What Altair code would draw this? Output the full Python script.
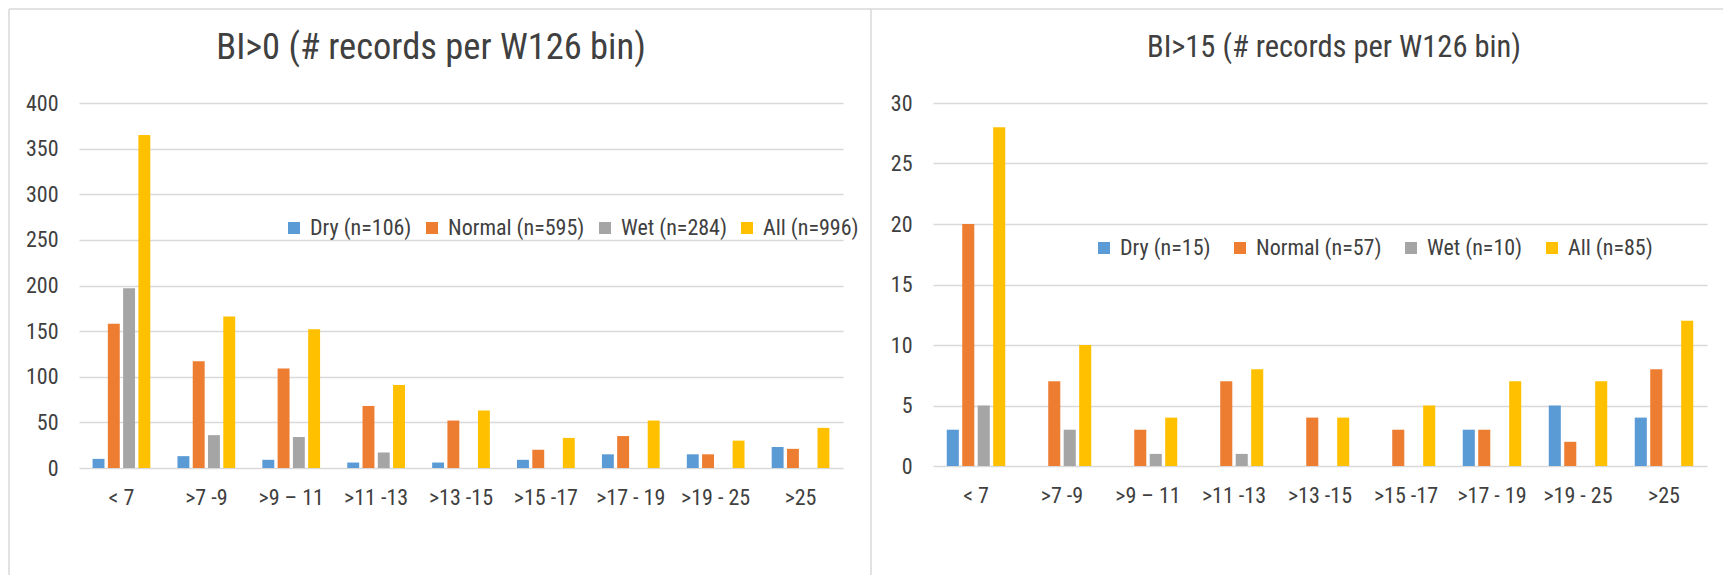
import altair as alt
import pandas as pd

bins = ["< 7", ">7 -9", ">9 – 11", ">11 -13", ">13 -15", ">15 -17", ">17 - 19", ">19 - 25", ">25"]

left_title = "BI>0 (# records per W126 bin)"
left_series = ["Dry (n=106)", "Normal (n=595)", "Wet (n=284)", "All (n=996)"]
dry0 = [10, 13, 9, 6, 6, 9, 15, 15, 23]
normal0 = [158, 117, 109, 68, 52, 20, 35, 15, 21]
wet0 = [197, 36, 34, 17, 0, 0, 0, 0, 0]
all0 = [365, 166, 152, 91, 63, 33, 52, 30, 44]

right_title = "BI>15 (# records per W126 bin)"
right_series = ["Dry (n=15)", "Normal (n=57)", "Wet (n=10)", "All (n=85)"]
dry15 = [3, 0, 0, 0, 0, 0, 3, 5, 4]
normal15 = [20, 7, 3, 7, 4, 3, 3, 2, 8]
wet15 = [5, 3, 1, 1, 0, 0, 0, 0, 0]
all15 = [28, 10, 4, 8, 4, 5, 7, 7, 12]

colors = ["#5B9BD5", "#ED7D31", "#A5A5A5", "#FFC000"]

FONT = "Liberation Sans Narrow, Arial Narrow, Roboto Condensed, sans-serif"
TEXT = "#404040"
GRID = "#D9D9D9"
BORDER = "#D9D9D9"


def long_table(series_names, arrays):
    rows = []
    for name, vals in zip(series_names, arrays):
        for b, v in zip(bins, vals):
            rows.append({"bin": b, "series": name, "value": v})
    return pd.DataFrame(rows)


def panel(df, series, title, title_size, title_x, ymax, ystep, width, height,
          legend_x, legend_y, col_pad, rules):
    bars = alt.Chart(df).mark_bar().encode(
        x=alt.X("bin:N", sort=bins,
                scale=alt.Scale(paddingInner=0.32, paddingOuter=0.16),
                axis=alt.Axis(title=None, labelAngle=0, labelFontSize=22,
                              labelColor=TEXT, labelFont=FONT, labelPadding=19,
                              ticks=False, tickSize=0, domain=False, grid=False)),
        xOffset=alt.XOffset("series:N", sort=series,
                            scale=alt.Scale(paddingInner=0.22, paddingOuter=0)),
        y=alt.Y("value:Q", scale=alt.Scale(domain=[0, ymax], nice=False),
                axis=alt.Axis(title=None, values=list(range(0, ymax + 1, ystep)),
                              labelFontSize=22, labelColor=TEXT, labelFont=FONT,
                              labelPadding=21, ticks=False, domain=False,
                              grid=True, gridColor=GRID, gridWidth=1.3,
                              minExtent=70, maxExtent=70)),
        color=alt.Color("series:N", sort=series,
                        scale=alt.Scale(domain=series, range=colors),
                        legend=alt.Legend(orient="none", legendX=legend_x, legendY=legend_y,
                                          direction="horizontal", columns=4, title=None,
                                          symbolType="square", symbolSize=144,
                                          symbolStrokeWidth=0, labelFontSize=22,
                                          labelFont=FONT, labelColor=TEXT,
                                          labelOffset=5, columnPadding=col_pad)),
    )
    layers = [bars]
    for (x1, x2, y1, y2) in rules:
        enc = {"x": alt.value(x1), "y": alt.value(y1)}
        if x2 is not None:
            enc["x2"] = alt.value(x2)
        if y2 is not None:
            enc["y2"] = alt.value(y2)
        layers.append(
            alt.Chart(alt.Data(values=[{"k": 1}])).mark_rule(color=BORDER, strokeWidth=1.5).encode(**enc)
        )
    # chart title (as text, placed inside the panel frame)
    layers.append(
        alt.Chart(alt.Data(values=[{"t": title}])).mark_text(
            font=FONT, fontSize=title_size, color=TEXT, align="center", baseline="middle"
        ).encode(text="t:N", x=alt.value(title_x), y=alt.value(-55))
    )
    return alt.layer(*layers).properties(width=width, height=height)


left = panel(long_table(left_series, [dry0, normal0, wet0, all0]), left_series,
             left_title, 36.5, 352, 400, 50, 764, 365,
             204, 114, 9,
             [(-70, 792, -94, None), (-70, None, -94, 472), (792, None, -94, 472)])

right = panel(long_table(right_series, [dry15, normal15, wet15, all15]), right_series,
              right_title, 30.5, 401, 30, 5, 774, 363,
              160, 134, 18,
              [(-62, 790, -94, None)])

chart = alt.hconcat(left, right, spacing=90, bounds="flush").resolve_scale(
    color="independent", x="independent", y="independent", xOffset="independent"
).resolve_legend(color="independent").properties(padding=0).configure_view(stroke=None)

chart.save("out.html", embed_options={"renderer": "svg", "actions": False})
